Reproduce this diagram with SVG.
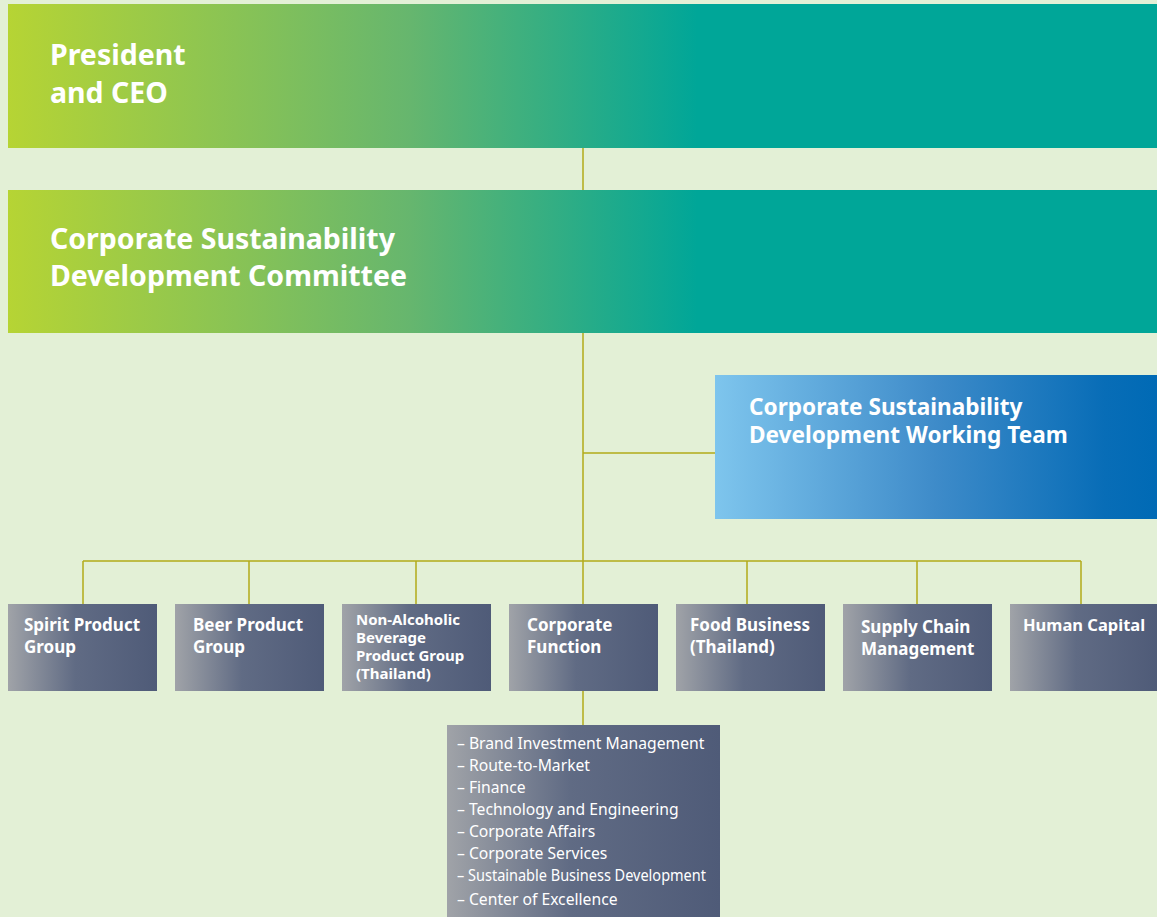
<svg xmlns="http://www.w3.org/2000/svg" width="1157" height="917" viewBox="0 0 1157 917">
<defs>
<linearGradient id="gGreen" x1="0" y1="0" x2="1" y2="0">
<stop offset="0" stop-color="#b6d434"/>
<stop offset="0.35" stop-color="#66b66e"/>
<stop offset="0.6" stop-color="#00a698"/>
<stop offset="1" stop-color="#00a698"/>
</linearGradient>
<linearGradient id="gBlue" x1="0" y1="0" x2="1" y2="0">
<stop offset="0" stop-color="#7ec5ed"/>
<stop offset="0.5" stop-color="#3e8bc9"/>
<stop offset="0.88" stop-color="#086db7"/>
<stop offset="1" stop-color="#006ab5"/>
</linearGradient>
<linearGradient id="gGrey" x1="0" y1="0" x2="1" y2="0">
<stop offset="0" stop-color="#a0a3a8"/>
<stop offset="0.45" stop-color="#606b84"/>
<stop offset="1" stop-color="#4f5b78"/>
</linearGradient>
<style>
.t{font-family:"Noto Sans","Open Sans",sans-serif;fill:#ffffff;font-weight:bold}
.big{font-size:28.5px}
.mid{font-size:22.6px}
.sm{font-size:17px}
.xs{font-size:15px}
.li{font-family:"Noto Sans","Open Sans",sans-serif;fill:#ffffff;font-size:15.7px}
.ln{stroke:#b3ab1a;stroke-width:1.5;fill:none}
</style>
</defs>
<rect x="0" y="0" width="1157" height="917" fill="#e3f0d6"/>
<g id="connectors">
<path class="ln" d="M583 148V190M583 333V561M583 453H715M83 561H1081M83 561V604M249 561V604M416 561V604M747 561V604M917 561V604M1081 561V604M583 561V604M583 691V725"/>
</g>
<g id="ceo">
<rect x="8" y="4" width="1149" height="144" fill="url(#gGreen)"/>
<text class="t big" x="50" y="65">President</text>
<text class="t big" x="50" y="103">and CEO</text>
</g>
<g id="committee">
<rect x="8" y="190" width="1149" height="143" fill="url(#gGreen)"/>
<text class="t big" x="50" y="249">Corporate Sustainability</text>
<text class="t big" x="50" y="286">Development Committee</text>
</g>
<g id="working-team">
<rect x="715" y="375" width="442" height="144" fill="url(#gBlue)"/>
<text class="t mid" x="749" y="415">Corporate Sustainability</text>
<text class="t mid" x="749" y="443">Development Working Team</text>
</g>
<g id="spirit">
<rect x="8" y="604" width="149" height="87" fill="url(#gGrey)"/>
<text class="t sm" x="24" y="631">Spirit Product</text>
<text class="t sm" x="24" y="653">Group</text>
</g>
<g id="beer">
<rect x="175" y="604" width="149" height="87" fill="url(#gGrey)"/>
<text class="t sm" x="193" y="631">Beer Product</text>
<text class="t sm" x="193" y="653">Group</text>
</g>
<g id="non-alcoholic">
<rect x="342" y="604" width="149" height="87" fill="url(#gGrey)"/>
<text class="t xs" x="356" y="625">Non-Alcoholic</text>
<text class="t xs" x="356" y="643">Beverage</text>
<text class="t xs" x="356" y="661">Product Group</text>
<text class="t xs" x="356" y="679">(Thailand)</text>
</g>
<g id="corporate-function">
<rect x="509" y="604" width="149" height="87" fill="url(#gGrey)"/>
<text class="t sm" x="527" y="631">Corporate</text>
<text class="t sm" x="527" y="653">Function</text>
</g>
<g id="food">
<rect x="676" y="604" width="149" height="87" fill="url(#gGrey)"/>
<text class="t sm" x="690" y="631">Food Business</text>
<text class="t sm" x="690" y="653">(Thailand)</text>
</g>
<g id="supply-chain">
<rect x="843" y="604" width="149" height="87" fill="url(#gGrey)"/>
<text class="t sm" x="861" y="633">Supply Chain</text>
<text class="t sm" x="861" y="655">Management</text>
</g>
<g id="human-capital">
<rect x="1010" y="604" width="147" height="87" fill="url(#gGrey)"/>
<text class="t" x="1023" y="631" font-size="16.5">Human Capital</text>
</g>
<g id="function-list">
<rect x="447" y="725" width="273" height="192" fill="url(#gGrey)"/>
<text class="li" x="457" y="749">– Brand Investment Management</text>
<text class="li" x="457" y="771">– Route-to-Market</text>
<text class="li" x="457" y="793">– Finance</text>
<text class="li" x="457" y="815">– Technology and Engineering</text>
<text class="li" x="457" y="837">– Corporate Affairs</text>
<text class="li" x="457" y="859">– Corporate Services</text>
<text class="li" x="457" y="881" textLength="249" lengthAdjust="spacingAndGlyphs">– Sustainable Business Development</text>
<text class="li" x="457" y="905">–  Center of Excellence</text>
</g>
</svg>
